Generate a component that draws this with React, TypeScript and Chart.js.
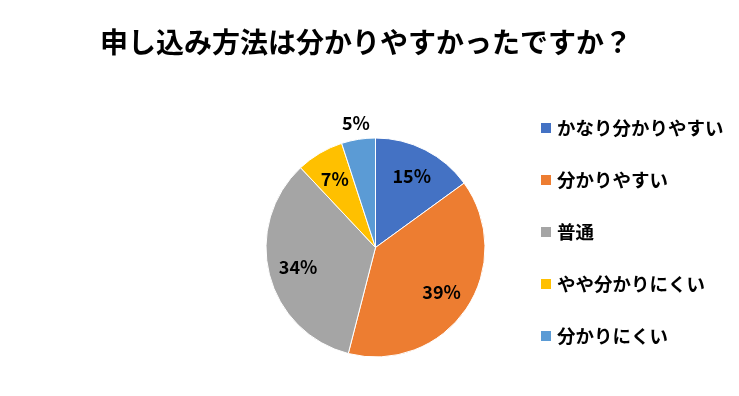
import React, { useEffect, useRef } from "react";
import { Chart, registerables } from "chart.js";

Chart.register(...registerables);

const titleText = "申し込み方法は分かりやすかったですか？";
const categories = ["かなり分かりやすい", "分かりやすい", "普通", "やや分かりにくい", "分かりにくい"];
const values = [15, 39, 34, 7, 5];
const colors = ["#4472C4", "#ED7D31", "#A5A5A5", "#FFC000", "#5B9BD5"];
const FONT = '"Noto Sans CJK JP", "Noto Sans", sans-serif';

const overlayPlugin = {
  id: "overlay",
  afterDraw(chart: any) {
    const ctx = chart.ctx as CanvasRenderingContext2D;
    ctx.save();
    // title
    ctx.fillStyle = "#000";
    ctx.font = `bold 28px ${FONT}`;
    ctx.textAlign = "center";
    ctx.textBaseline = "middle";
    ctx.fillText(titleText, 366, 42);

    // data labels
    const meta = chart.getDatasetMeta(0);
    const total = values.reduce((a, b) => a + b, 0);
    ctx.font = `bold 18px ${FONT}`;
    meta.data.forEach((arc: any, i: number) => {
      const { x, y, startAngle, endAngle, outerRadius } = arc.getProps(
        ["x", "y", "startAngle", "endAngle", "outerRadius"],
        true
      );
      const mid = (startAngle + endAngle) / 2;
      const pct = Math.round((values[i] / total) * 100);
      const outside = pct < 6;
      const d = outside ? outerRadius + 16 : outerRadius * 0.73;
      ctx.fillStyle = "#000";
      ctx.fillText(pct + "%", x + Math.cos(mid) * d, y + Math.sin(mid) * d);
    });

    // legend
    ctx.textAlign = "left";
    ctx.font = `bold 18.5px ${FONT}`;
    categories.forEach((c, i) => {
      const cy = 128 + i * 52;
      ctx.fillStyle = colors[i];
      ctx.fillRect(541, cy - 5, 10, 10);
      ctx.fillStyle = "#000";
      ctx.fillText(c, 557, cy);
    });
    ctx.restore();
  },
};

export default function App() {
  const ref = useRef<HTMLCanvasElement>(null);
  useEffect(() => {
    if (!ref.current) return;
    const chart = new Chart(ref.current, {
      type: "pie",
      data: {
        labels: categories,
        datasets: [
          {
            data: values,
            backgroundColor: colors,
            borderColor: "#ffffff",
            borderWidth: 1,
          },
        ],
      },
      options: {
        responsive: false,
        animation: false,
        layout: { padding: { left: 265.5, right: 253.5, top: 137.5, bottom: 38.5 } },
        plugins: {
          legend: { display: false },
          title: { display: false },
          tooltip: { enabled: false },
        },
      },
      plugins: [overlayPlugin],
    });
    return () => chart.destroy();
  }, []);
  return (
    <div style={{ position: "absolute", left: 0, top: 0, width: 739, height: 396, background: "#fff" }}>
      <canvas ref={ref} width={739} height={396} />
    </div>
  );
}
